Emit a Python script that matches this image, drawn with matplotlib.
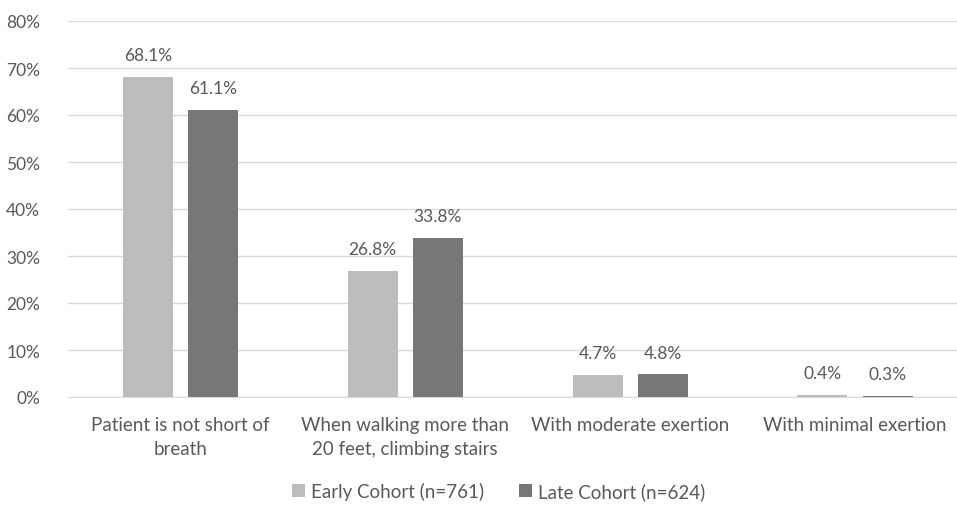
import numpy as np
import matplotlib.pyplot as plt
from matplotlib.ticker import FuncFormatter

categories = ['Patient is not short of\nbreath',
              'When walking more than\n20 feet, climbing stairs',
              'With moderate exertion',
              'With minimal exertion']
early = [68.1, 26.8, 4.7, 0.4]
late = [61.1, 33.8, 4.8, 0.3]
series_names = ['Early Cohort (n=761)', 'Late Cohort (n=624)']

plt.rcParams['font.family'] = ['Lato', 'DejaVu Sans']
txt = '#595959'

fig = plt.figure(figsize=(9.57, 5.06), dpi=100)
ax = fig.add_axes([68/957, 108/506, 1 - 68/957, (398 - 22)/506])

x = np.arange(len(categories))
w = 0.222
off = 0.145
b1 = ax.bar(x - off, early, w, color='#bdbdbd', label=series_names[0], zorder=3)
b2 = ax.bar(x + off, late, w, color='#777777', label=series_names[1], zorder=3)

for bars, vals in ((b1, early), (b2, late)):
    for b, v in zip(bars, vals):
        ax.annotate('{:.1f}%'.format(v), (b.get_x() + b.get_width()/2, v),
                    xytext=(0, 10), textcoords='offset points',
                    ha='center', va='bottom', fontsize=12.5, color=txt)

ax.set_ylim(0, 80)
ax.set_yticks(np.arange(0, 81, 10))
ax.yaxis.set_major_formatter(FuncFormatter(lambda v, p: '{:.0f}%'.format(v)))
ax.set_xlim(-0.5, 3.5 - 10.5/225)
ax.set_xticks(x)
ax.set_xticklabels(categories, fontsize=13.5, color=txt, linespacing=1.45)
ax.tick_params(axis='y', labelsize=12.5, colors=txt, length=0, pad=20)
ax.tick_params(axis='x', length=0, pad=14)
ax.grid(axis='y', color='#d9d9d9', linewidth=1, zorder=0)
for s in ['top', 'right', 'left']:
    ax.spines[s].set_visible(False)
ax.spines['bottom'].set_color('#d9d9d9')

fig.legend(loc='center', bbox_to_anchor=(0.521, 1 - 492/506), ncol=2, frameon=False,
           fontsize=13.5, labelcolor=txt, handlelength=0.7, handleheight=0.7,
           handletextpad=0.3, columnspacing=1.9)

fig.savefig('out.png', dpi=100)
